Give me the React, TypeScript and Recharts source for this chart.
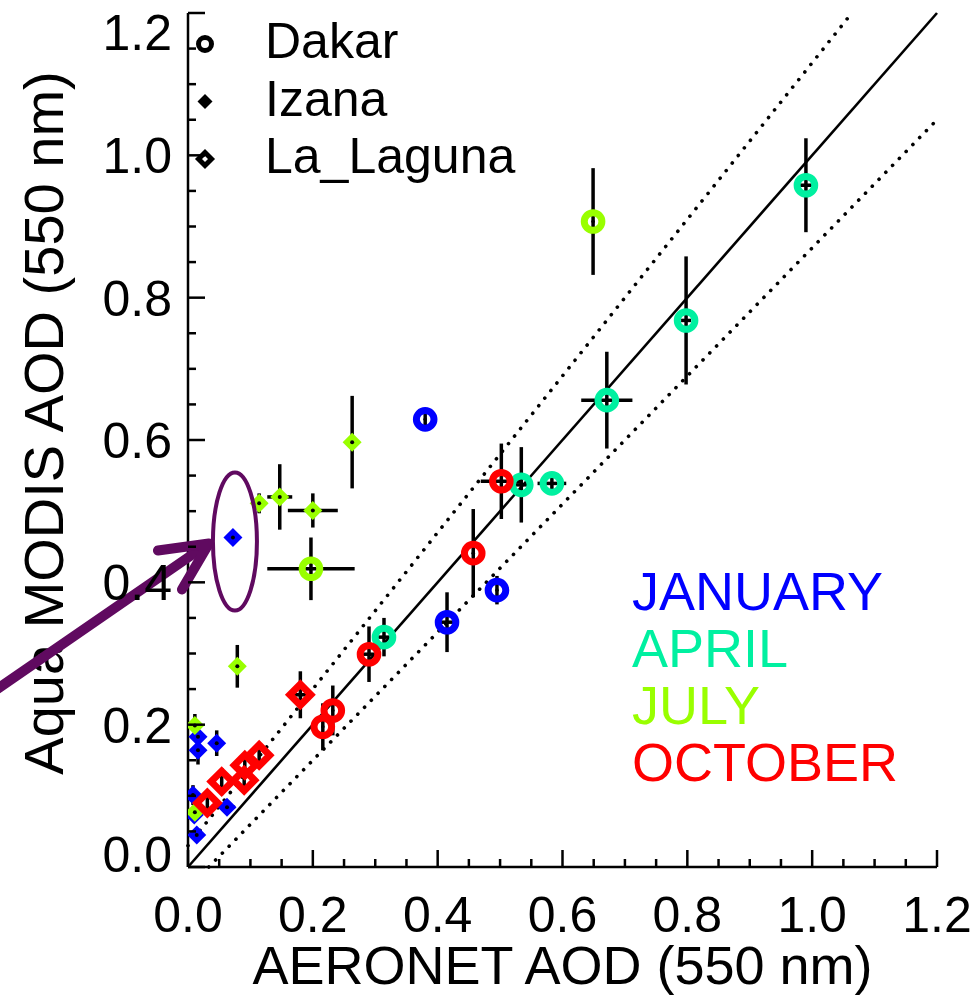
import React from "react";
import {
  ScatterChart,
  Scatter,
  XAxis,
  YAxis,
  ErrorBar,
  ReferenceLine,
  ReferenceDot,
} from "recharts";

// Aqua MODIS vs AERONET AOD at 550 nm, by site and month.
type Pt = { x: number; y: number; ex: number; ey: number };

const FONT = "'Liberation Sans', Arial, Helvetica, sans-serif";

const xTicks = [0, 0.05, 0.1, 0.15, 0.2, 0.25, 0.3, 0.35, 0.4, 0.45, 0.5, 0.55, 0.6, 0.65, 0.7, 0.75, 0.8, 0.85, 0.9, 0.95, 1.0, 1.05, 1.1, 1.15, 1.2];
const yTicks = xTicks;

const sites = ["Dakar", "Izana", "La_Laguna"];
const months = [
  { name: "JANUARY", color: "#0000ff" },
  { name: "APRIL", color: "#00f0a0" },
  { name: "JULY", color: "#99ff00" },
  { name: "OCTOBER", color: "#ff0000" },
];

// expected error envelope: y = x ± (a + b·x)
const EE_A = 0.03;
const EE_B = 0.1;

const dakarJan: Pt[] = [
  { x: 0.38, y: 0.629, ex: 0, ey: 0.008 },
  { x: 0.415, y: 0.344, ex: 0.016, ey: 0.042 },
  { x: 0.495, y: 0.389, ex: 0, ey: 0.02 },
];
const dakarApr: Pt[] = [
  { x: 0.314, y: 0.323, ex: 0.013, ey: 0.027 },
  { x: 0.534, y: 0.537, ex: 0.017, ey: 0.053 },
  { x: 0.583, y: 0.539, ex: 0.023, ey: 0.015 },
  { x: 0.671, y: 0.656, ex: 0.041, ey: 0.068 },
  { x: 0.798, y: 0.768, ex: 0.008, ey: 0.09 },
  { x: 0.99, y: 0.958, ex: 0.01, ey: 0.066 },
];
const dakarJul: Pt[] = [
  { x: 0.649, y: 0.907, ex: 0, ey: 0.075 },
  { x: 0.197, y: 0.419, ex: 0.07, ey: 0.044 },
];
const dakarOct: Pt[] = [
  { x: 0.502, y: 0.542, ex: 0.033, ey: 0.053 },
  { x: 0.457, y: 0.441, ex: 0, ey: 0.062 },
  { x: 0.29, y: 0.299, ex: 0.01, ey: 0.039 },
  { x: 0.232, y: 0.22, ex: 0, ey: 0.035 },
  { x: 0.216, y: 0.197, ex: 0, ey: 0.033 },
];
const izanaJan: Pt[] = [
  { x: 0.072, y: 0.463, ex: 0, ey: 0 },
  { x: 0.016, y: 0.183, ex: 0, ey: 0.02 },
  { x: 0.016, y: 0.164, ex: 0, ey: 0.02 },
  { x: 0.046, y: 0.174, ex: 0, ey: 0.018 },
  { x: 0.008, y: 0.101, ex: 0, ey: 0.014 },
  { x: 0.01, y: 0.073, ex: 0, ey: 0.01 },
  { x: 0.014, y: 0.045, ex: 0, ey: 0 },
  { x: 0.0625, y: 0.084, ex: 0.013, ey: 0.006 },
];
const izanaJul: Pt[] = [
  { x: 0.114, y: 0.511, ex: 0.011, ey: 0.014 },
  { x: 0.147, y: 0.52, ex: 0.02, ey: 0.046 },
  { x: 0.2, y: 0.501, ex: 0.04, ey: 0.024 },
  { x: 0.263, y: 0.597, ex: 0, ey: 0.065 },
  { x: 0.079, y: 0.282, ex: 0, ey: 0.03 },
  { x: 0.011, y: 0.199, ex: 0, ey: 0.016 },
  { x: 0.011, y: 0.077, ex: 0, ey: 0.01 },
];
const lagunaOct: Pt[] = [
  { x: 0.031, y: 0.09, ex: 0, ey: 0.013 },
  { x: 0.054, y: 0.12, ex: 0, ey: 0.019 },
  { x: 0.09, y: 0.122, ex: 0, ey: 0.017 },
  { x: 0.091, y: 0.143, ex: 0, ey: 0.016 },
  { x: 0.114, y: 0.157, ex: 0, ey: 0.013 },
  { x: 0.18, y: 0.242, ex: 0.013, ey: 0.033 },
];

// the point circled in the figure
const highlighted = izanaJan[0];

const isMajor = (v: number) => Math.abs(v * 5 - Math.round(v * 5)) < 1e-6;
const MAJOR = 17;
const MINOR = 8;
const TICK_W = 2.5;

const ring = (color: string) => (p: any) => (
  <g>
    <circle cx={p.cx} cy={p.cy} r={8.8} fill="none" stroke={color} strokeWidth={7} />
    <circle cx={p.cx} cy={p.cy} r={1.8} fill="#000" />
  </g>
);

const dpath = (cx: number, cy: number, d: number) =>
  `${cx},${cy - d} ${cx + d},${cy} ${cx},${cy + d} ${cx - d},${cy}`;

const solidDiamond = (color: string) => (p: any) => (
  <g>
    <polygon points={dpath(p.cx, p.cy, 9.5)} fill={color} />
    <circle cx={p.cx} cy={p.cy} r={2} fill="#000" />
  </g>
);

const openDiamond = (color: string) => (p: any) => (
  <polygon points={dpath(p.cx, p.cy, 10.5)} fill="none" stroke={color} strokeWidth={7} />
);

const blank = () => <g />;

const groups = [
  { data: dakarJan, shape: ring(months[0].color) },
  { data: dakarApr, shape: ring(months[1].color) },
  { data: dakarJul, shape: ring(months[2].color) },
  { data: dakarOct, shape: ring(months[3].color) },
  { data: izanaJan, shape: solidDiamond(months[0].color) },
  { data: izanaJul, shape: solidDiamond(months[2].color) },
  { data: lagunaOct, shape: openDiamond(months[3].color) },
];

function BottomTick({ x, y, payload }: any) {
  const v = payload.value;
  const major = isMajor(v);
  return (
    <g>
      <line x1={x} x2={x} y1={y} y2={y - (major ? MAJOR : MINOR)} stroke="#000" strokeWidth={TICK_W} />
      {major && (
        <text x={x} y={y + 65} textAnchor="middle" fontSize={50} fontFamily={FONT} fill="#000">
          {v.toFixed(1)}
        </text>
      )}
    </g>
  );
}

function TopTick({ x, y, payload }: any) {
  const major = isMajor(payload.value);
  return <line x1={x} x2={x} y1={y} y2={y + (major ? MAJOR : MINOR)} stroke="#000" strokeWidth={TICK_W} />;
}

function LeftTick({ x, y, payload }: any) {
  const v = payload.value;
  const major = isMajor(v);
  // end labels sit inside the frame, as in the original
  const dy = v >= 1.2 ? 37 : v <= 0 ? 5 : 18;
  return (
    <g>
      <line x1={x} x2={x + (major ? MAJOR : MINOR)} y1={y} y2={y} stroke="#000" strokeWidth={TICK_W} />
      {major && (
        <text x={x - 16} y={y + dy} textAnchor="end" fontSize={50} fontFamily={FONT} fill="#000">
          {v.toFixed(1)}
        </text>
      )}
    </g>
  );
}

function RightTick({ x, y, payload }: any) {
  const major = isMajor(payload.value);
  return <line x1={x} x2={x - (major ? MAJOR : MINOR)} y1={y} y2={y} stroke="#000" strokeWidth={TICK_W} />;
}

const Callout = ({ cx, cy }: any) => (
  <g stroke="#600a60" fill="none" strokeLinecap="round" strokeLinejoin="round">
    <ellipse cx={cx + 2} cy={cy + 4} rx={22} ry={69} strokeWidth={4} />
    <line x1={cx - 245} y1={cy + 158} x2={cx - 26} y2={cy + 7} strokeWidth={10} />
    <polyline points={`${cx - 75},${cy + 13} ${cx - 24},${cy + 6} ${cx - 51},${cy + 52}`} strokeWidth={10} />
  </g>
);

function LegendMark({ i, x, y }: { i: number; x: number; y: number }) {
  if (i === 0) return <circle cx={x} cy={y} r={6.5} fill="none" stroke="#000" strokeWidth={5} />;
  if (i === 1) return <polygon points={dpath(x, y, 7.5)} fill="#000" />;
  return <polygon points={dpath(x, y, 6.5)} fill="none" stroke="#000" strokeWidth={5} />;
}

const axisLine = { stroke: "#000", strokeWidth: 2.5 };
const dotted = { stroke: "#000", strokeWidth: 3.6, strokeDasharray: "0.1 9.6", strokeLinecap: "round" as const };

export default function App() {
  return (
    <div style={{ position: "absolute", left: 0, top: 0, width: 976, height: 1004, background: "#fff" }}>
      <ScatterChart width={976} height={1004} margin={{ top: 13, right: 39, bottom: 0, left: 0 }}>
        <XAxis
          xAxisId="b"
          type="number"
          dataKey="x"
          domain={[0, 1.2]}
          ticks={xTicks}
          interval={0}
          height={137}
          tickSize={0}
          tickMargin={0}
          tickLine={false}
          axisLine={axisLine}
          tick={<BottomTick />}
          allowDataOverflow
          label={{
            content: ({ viewBox }: any) => (
              <text
                x={viewBox.x + viewBox.width / 2}
                y={viewBox.y + 117}
                textAnchor="middle"
                fontSize={54}
                fontFamily={FONT}
                fill="#000"
              >
                AERONET AOD (550 nm)
              </text>
            ),
          }}
        />
        <XAxis
          xAxisId="t"
          orientation="top"
          type="number"
          dataKey="x"
          domain={[0, 1.2]}
          ticks={xTicks}
          interval={0}
          height={0}
          tickSize={0}
          tickMargin={0}
          tickLine={false}
          axisLine={axisLine}
          tick={<TopTick />}
          allowDataOverflow
        />
        <YAxis
          yAxisId="l"
          type="number"
          dataKey="y"
          domain={[0, 1.2]}
          ticks={yTicks}
          interval={0}
          width={188}
          tickSize={0}
          tickMargin={0}
          tickLine={false}
          axisLine={axisLine}
          tick={<LeftTick />}
          allowDataOverflow
          label={{
            content: ({ viewBox }: any) => {
              const lx = 63;
              const ly = viewBox.y + viewBox.height / 2 - 17;
              return (
                <text
                  x={lx}
                  y={ly}
                  transform={`rotate(-90 ${lx} ${ly})`}
                  textAnchor="middle"
                  fontSize={56}
                  fontFamily={FONT}
                  fill="#000"
                >
                  Aqua MODIS AOD (550 nm)
                </text>
              );
            },
          }}
        />
        <YAxis
          yAxisId="r"
          orientation="right"
          type="number"
          dataKey="y"
          domain={[0, 1.2]}
          ticks={yTicks}
          interval={0}
          width={0}
          tickSize={0}
          tickMargin={0}
          tickLine={false}
          axisLine={axisLine}
          tick={<RightTick />}
          allowDataOverflow
        />

        <ReferenceLine
          xAxisId="b"
          yAxisId="l"
          segment={[{ x: 0, y: 0 }, { x: 1.2, y: 1.2 }]}
          stroke="#000"
          strokeWidth={2.6}
        />
        <ReferenceLine
          xAxisId="b"
          yAxisId="l"
          segment={[{ x: 0, y: EE_A }, { x: (1.2 - EE_A) / (1 + EE_B), y: 1.2 }]}
          {...dotted}
        />
        <ReferenceLine
          xAxisId="b"
          yAxisId="l"
          segment={[{ x: EE_A / (1 - EE_B), y: 0 }, { x: 1.2, y: 1.2 * (1 - EE_B) - EE_A }]}
          {...dotted}
        />

        {groups.map((g, i) => (
          <Scatter
            key={"m" + i}
            xAxisId="b"
            yAxisId="l"
            data={g.data}
            shape={g.shape}
            isAnimationActive={false}
            legendType="none"
          />
        ))}
        {groups.map((g, i) => (
          <Scatter
            key={"e" + i}
            xAxisId="b"
            yAxisId="l"
            data={g.data}
            shape={blank}
            isAnimationActive={false}
            legendType="none"
          >
            <ErrorBar dataKey="ex" direction="x" width={0} stroke="#000" strokeWidth={3.5} isAnimationActive={false} />
            <ErrorBar dataKey="ey" direction="y" width={0} stroke="#000" strokeWidth={3.5} isAnimationActive={false} />
          </Scatter>
        ))}

        <ReferenceDot
          xAxisId="b"
          yAxisId="l"
          x={highlighted.x}
          y={highlighted.y}
          r={1}
          shape={(p: any) => <Callout {...p} />}
        />
      </ScatterChart>

      <svg
        width={976}
        height={1004}
        style={{ position: "absolute", left: 0, top: 0, pointerEvents: "none" }}
      >
        {sites.map((s, i) => (
          <g key={s}>
            <LegendMark i={i} x={205} y={44 + i * 57.5} />
            <text x={265} y={58 + i * 57.5} fontSize={50} fontFamily={FONT} fill="#000">
              {s}
            </text>
          </g>
        ))}
        {months.map((m, i) => (
          <text key={m.name} x={632} y={610 + i * 57} fontSize={54} fontFamily={FONT} fill={m.color}>
            {m.name}
          </text>
        ))}
      </svg>
    </div>
  );
}
